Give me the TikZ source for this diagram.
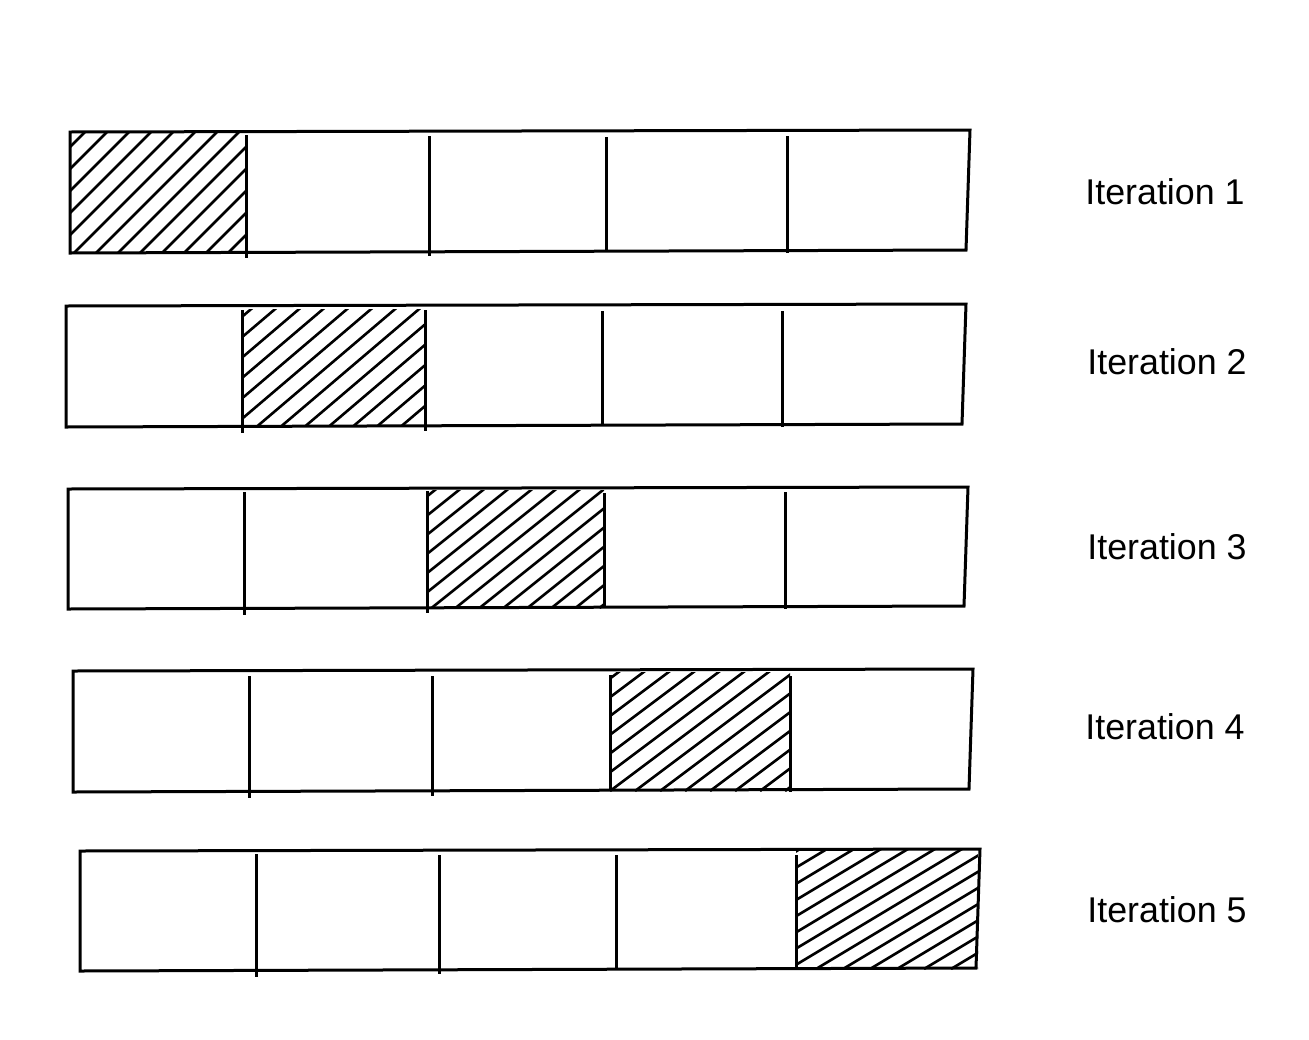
\documentclass[tikz,border=0pt]{standalone}
\usepackage{fontspec}
\setmainfont{Liberation Sans}
\tikzset{
  box/.style={line width=3pt, line join=miter},
  divider/.style={line width=3pt},
  hatchline/.style={line width=2.6pt},
  lab/.style={font=\fontsize{35.8}{42}\selectfont, anchor=center, inner sep=0pt}
}
\newcommand\hatchcell[6]{%
  \begin{scope}
    \clip (#1,#3) rectangle (#2,#4);
    \foreach \k in {0,...,30}{%
      \draw[hatchline] ({#1-150/#5+\k*#6},#4) -- ++(300,{-300*#5});
    }
  \end{scope}}
\begin{document}
\begin{tikzpicture}[x=1pt,y=-1pt]
\useasboundingbox (0,0) rectangle (1309,1039);
% Row 1
\hatchcell{70}{246}{132}{253}{1.0}{22}
\draw[box] (70,132) -- (970,130) -- (966,250) -- (70,253) -- cycle;
\draw[divider] (246,135) -- (246,258);
\draw[divider] (429,136) -- (429,256);
\draw[divider] (606,137) -- (606,251);
\draw[divider] (787,136) -- (787,253);
\node[lab] (l1) at (1165,192) {Iteration 1};
% Row 2
\hatchcell{242}{425}{309}{426}{0.85}{24}
\draw[box] (66,306) -- (966,304) -- (962,424) -- (66,427) -- cycle;
\draw[divider] (242,310) -- (242,433);
\draw[divider] (425,310) -- (425,431);
\draw[divider] (602,311) -- (602,425);
\draw[divider] (782,311) -- (782,427);
\node[lab] (l2) at (1167,362) {Iteration 2};
% Row 3
\hatchcell{427}{604}{490}{608}{0.8}{24}
\draw[box] (68,489) -- (968,487) -- (964,606) -- (68,609) -- cycle;
\draw[divider] (244,492) -- (244,615);
\draw[divider] (427,491) -- (427,613);
\draw[divider] (604,493) -- (604,608);
\draw[divider] (785,492) -- (785,609);
\node[lab] (l3) at (1167,547) {Iteration 3};
% Row 4
\hatchcell{610}{790}{672}{791}{0.75}{25}
\draw[box] (73,671) -- (973,669) -- (969,789) -- (73,792) -- cycle;
\draw[divider] (249,676) -- (249,798);
\draw[divider] (432,676) -- (432,796);
\draw[divider] (610,675) -- (610,790);
\draw[divider] (790,676) -- (790,792);
\node[lab] (l4) at (1165,727) {Iteration 4};
% Row 5
\hatchcell{796}{978}{850}{969}{0.6}{27}
\draw[box] (80,851) -- (980,849) -- (976,968) -- (80,971) -- cycle;
\draw[divider] (256,854) -- (256,977);
\draw[divider] (439,855) -- (439,974);
\draw[divider] (616,855) -- (616,970);
\draw[divider] (796,855) -- (796,970);
\node[lab] (l5) at (1167,910) {Iteration 5};
\end{tikzpicture}
\end{document}
